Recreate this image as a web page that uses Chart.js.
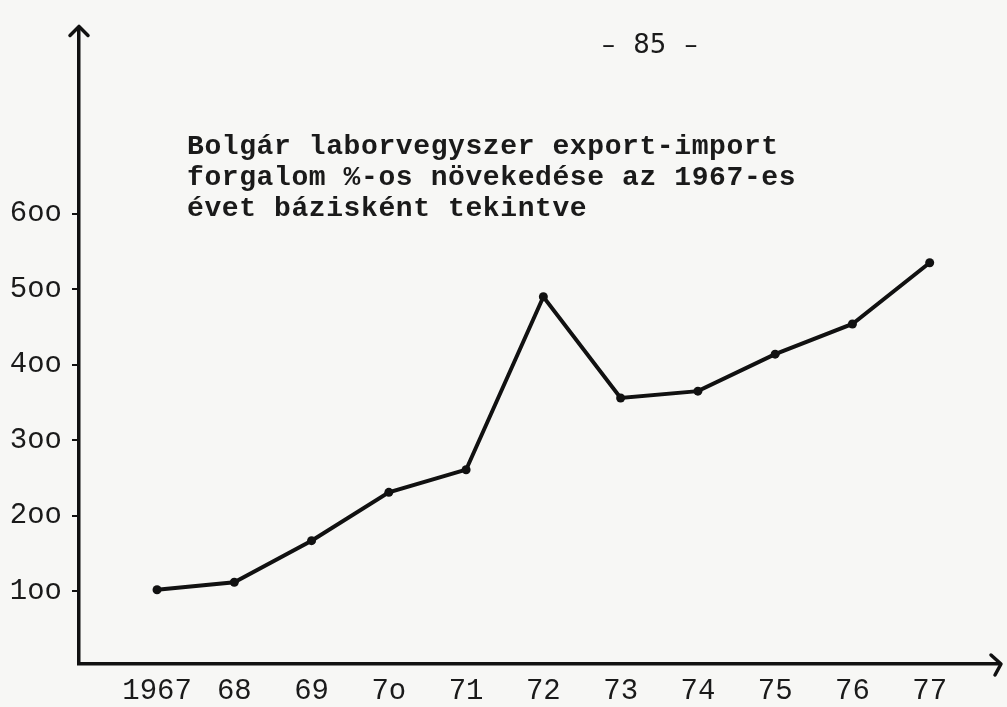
<!DOCTYPE html>
<html>
<head>
<meta charset="utf-8">
<script src="https://cdn.jsdelivr.net/npm/chart.js@4/dist/chart.umd.min.js"></script>
<style>
  html, body { margin: 0; padding: 0; background: #f7f7f5; }
  #wrap { position: relative; width: 1007px; height: 707px; overflow: hidden; }
  canvas { position: absolute; left: 0; top: 0; }
  #title { position: absolute; left: 187px; top: 131px; font-family: "Liberation Mono", monospace; font-weight: bold; font-size: 28px; letter-spacing: 0.6px; line-height: 31px; color: #1a1a1a; white-space: pre; }
  #page { position: absolute; left: 602px; top: 29px; font-family: "DejaVu Sans", sans-serif; font-size: 26px; line-height: 30px; word-spacing: 10px; color: #1a1a1a; white-space: pre; }
</style>
</head>
<body>
<div id="wrap">
  <canvas id="c" width="1007" height="707"></canvas>
  <div id="page">– 85 –</div>
  <div id="title">Bolgár laborvegyszer export-import
forgalom %-os növekedése az 1967-es
évet bázisként tekintve</div>
</div>
<script>
const yearLabels = ["1967", "68", "69", "7o", "71", "72", "73", "74", "75", "76", "77"];
const growthValues = [102, 112, 167, 231, 261, 490, 356, 365, 414, 454, 535];
const yTickValues = [100, 200, 300, 400, 500, 600];
const yTickLabels = ["1oo", "2oo", "3oo", "4oo", "5oo", "6oo"];

const points = growthValues.map((v, i) => ({ x: i, y: v }));

const arrowPlugin = {
  id: 'arrows',
  afterDraw(chart) {
    const ctx = chart.ctx;
    const a = chart.chartArea;
    ctx.save();
    ctx.strokeStyle = '#111';
    ctx.lineWidth = 3.5;
    ctx.lineCap = 'round';
    ctx.lineJoin = 'round';
    ctx.beginPath();
    ctx.moveTo(a.left - 9, a.top + 8);
    ctx.lineTo(a.left, a.top - 1);
    ctx.lineTo(a.left + 9, a.top + 8);
    ctx.stroke();
    ctx.beginPath();
    ctx.moveTo(a.right - 9, a.bottom - 9);
    ctx.lineTo(a.right + 1, a.bottom);
    ctx.lineTo(a.right - 5, a.bottom + 11);
    ctx.stroke();
    ctx.restore();
  }
};

new Chart(document.getElementById('c'), {
  type: 'line',
  data: {
    datasets: [{
      data: points,
      borderColor: '#111',
      backgroundColor: '#111',
      borderWidth: 4,
      pointRadius: 4.5,
      pointBackgroundColor: '#111',
      pointBorderWidth: 0,
      tension: 0,
      fill: false
    }]
  },
  options: {
    responsive: false,
    animation: false,
    events: [],
    layout: { padding: { top: 25, right: 7, bottom: 0, left: 0 } },
    plugins: { legend: { display: false }, tooltip: { enabled: false }, title: { display: false } },
    scales: {
      x: {
        type: 'linear',
        min: -1.01,
        max: 10.91,
        afterFit(s) { s.height = 43; },
        afterBuildTicks(s) { s.ticks = yearLabels.map((_, i) => ({ value: i })); },
        grid: { display: false, drawTicks: false },
        border: { display: true, color: '#111', width: 3.5 },
        ticks: {
          autoSkip: false,
          maxRotation: 0,
          padding: 10,
          color: '#1a1a1a',
          font: { family: 'Liberation Mono', size: 29 },
          callback: (v) => yearLabels[v] ?? ''
        }
      },
      y: {
        type: 'linear',
        min: 3.7,
        max: 846.7,
        afterFit(s) { s.width = 79; },
        afterBuildTicks(s) { s.ticks = yTickValues.map(v => ({ value: v })); },
        grid: { display: true, drawOnChartArea: false, drawTicks: true, tickLength: 7, color: '#111', lineWidth: 2 },
        border: { display: true, color: '#111', width: 3.5 },
        ticks: {
          autoSkip: false,
          padding: 10,
          color: '#1a1a1a',
          font: { family: 'Liberation Mono', size: 29 },
          callback: (v) => yTickLabels[yTickValues.indexOf(v)] ?? ''
        }
      }
    }
  },
  plugins: [arrowPlugin]
});
</script>
</body>
</html>
